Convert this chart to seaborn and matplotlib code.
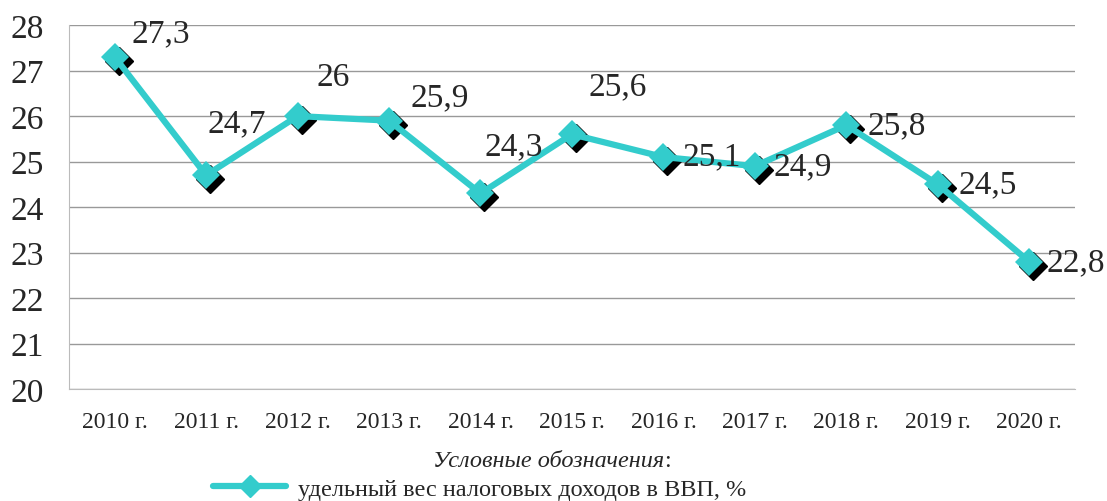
import pandas as pd
import matplotlib.pyplot as plt
import seaborn as sns
from matplotlib import transforms
from matplotlib.lines import Line2D

years = ["2010 г.", "2011 г.", "2012 г.", "2013 г.", "2014 г.", "2015 г.",
         "2016 г.", "2017 г.", "2018 г.", "2019 г.", "2020 г."]
share = [27.3, 24.7, 26.0, 25.9, 24.3, 25.6, 25.1, 24.9, 25.8, 24.5, 22.8]
series_name = "удельный вес налоговых доходов в ВВП, %"

df = pd.DataFrame({"year": years, "share": share})
df["x"] = range(len(df))

# смещения подписей (в пикселях)
label_offsets = [(46, 24), (31, 52), (36, 39), (51, 24), (33, 47), (46, 48),
                 (48, 1), (48, 0), (50, 0), (50, 0), (47, 0)]

sns.set_style("white")
plt.rcParams["font.family"] = ["Liberation Serif", "DejaVu Serif"]

fig = plt.figure(figsize=(11.07, 5.02), dpi=100)
ax = fig.add_axes([0.0623, 0.223, 0.9087, 0.725])

color = "#33CCCC"

# тень под маркерами
shadow = transforms.offset_copy(ax.transData, fig=fig, x=4, y=-4, units="dots")
ax.plot(df["x"], df["share"], linestyle="none", marker="D", markersize=14,
        color="black", transform=shadow, zorder=3)

sns.lineplot(data=df, x="x", y="share", ax=ax, color=color, linewidth=4.5,
             marker="D", markersize=14, markeredgewidth=0, zorder=4)

for i, (v, (dx, dy)) in enumerate(zip(share, label_offsets)):
    txt = f"{v:g}".replace(".", ",")
    ax.annotate(txt, (i, v), xytext=(dx * 0.72, dy * 0.72), textcoords="offset points",
                ha="center", va="center", fontsize=24, zorder=5)

ax.set_xlim(-0.5, len(years) - 0.5)
ax.set_ylim(20, 28)
ax.set_yticks(range(20, 29))
ax.set_xticks(df["x"])
ax.set_xticklabels(years, fontsize=17)
ax.tick_params(axis="y", labelsize=24, length=0, pad=18)
ax.tick_params(axis="x", length=0, pad=16)
ax.grid(axis="y", color="#999999", linewidth=1)
ax.set_axisbelow(True)
ax.set_xlabel("")
ax.set_ylabel("")
for s in ["top", "right"]:
    ax.spines[s].set_visible(False)
ax.spines["left"].set_color("#BBBBBB")
ax.spines["bottom"].set_color("#BBBBBB")

# легенда
fig.text(0.6, 0.08, "Условные обозначения", fontsize=17.5, style="italic",
         ha="right", va="center")
fig.text(0.6, 0.08, ":", fontsize=17.5, ha="left", va="center")
handle = Line2D([], [], color=color, linewidth=4.5, marker="D", markersize=11)
fig.legend([handle], [series_name], loc="center left",
           bbox_to_anchor=(0.173, 0.024), frameon=False, fontsize=17.5,
           handlelength=3.0, handletextpad=0.5)

plt.savefig("out.png", dpi=100)
